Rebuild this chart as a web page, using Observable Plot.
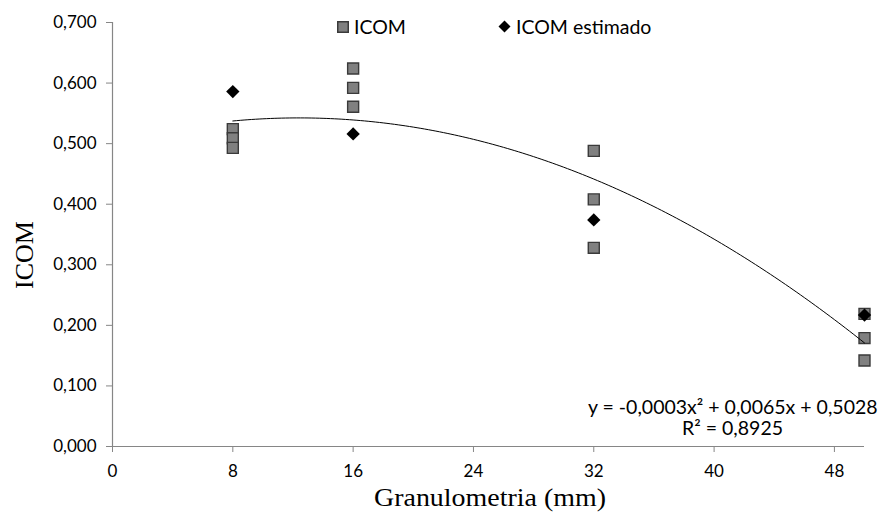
<!DOCTYPE html>
<html>
<head>
<meta charset="utf-8">
<script src="https://cdn.jsdelivr.net/npm/d3@7"></script>
<script src="https://cdn.jsdelivr.net/npm/@observablehq/plot@0.6"></script>
<style>
  body { margin: 0; background: #fff; }
  #wrap { position: relative; width: 886px; height: 512px; overflow: hidden; }
  .legend { position: absolute; top: 15px; font-family: Lato, sans-serif; font-size: 19.5px; color: #000; display: flex; align-items: center; gap: 5px; white-space: nowrap; }
  .eq { position: absolute; font-family: Lato, sans-serif; font-size: 19.5px; color: #000; white-space: nowrap; line-height: 21px; }
</style>
</head>
<body>
<div id="wrap"></div>
<script>
// ---- data ----
const granulometria = [8, 8, 8, 16, 16, 16, 32, 32, 32, 50, 50, 50];
const icom = [0.524, 0.509, 0.493, 0.624, 0.592, 0.561, 0.488, 0.408, 0.328, 0.219, 0.179, 0.142];
const granulometriaEstimado = [8, 16, 32, 50];
const icomEstimado = [0.586, 0.516, 0.374, 0.217];
const xTicks = [0, 8, 16, 24, 32, 40, 48];
const yTicks = [0, 0.1, 0.2, 0.3, 0.4, 0.5, 0.6, 0.7];
const equationText = "y = -0,0003x² + 0,0065x + 0,5028";
const r2Text = "R² = 0,8925";

// ---- build tables ----
const obs = granulometria.map((g, i) => ({x: g, y: icom[i]}));
const est = granulometriaEstimado.map((g, i) => ({x: g, y: icomEstimado[i]}));

// least-squares quadratic trendline fitted to the ICOM points (as the spreadsheet does)
function quadFit(xs, ys) {
  const S = k => d3.sum(xs, x => x ** k);
  const T = k => d3.sum(xs, (x, i) => x ** k * ys[i]);
  const A = [[S(0), S(1), S(2), T(0)], [S(1), S(2), S(3), T(1)], [S(2), S(3), S(4), T(2)]];
  for (let c = 0; c < 3; c++) {
    for (let r = c + 1; r < 3; r++) {
      const f = A[r][c] / A[c][c];
      for (let k = c; k < 4; k++) A[r][k] -= f * A[c][k];
    }
  }
  const b = [0, 0, 0];
  for (let r = 2; r >= 0; r--) {
    let s = A[r][3];
    for (let k = r + 1; k < 3; k++) s -= A[r][k] * b[k];
    b[r] = s / A[r][r];
  }
  return b;
}
const [c0, c1, c2] = quadFit(granulometria, icom);
const xMin = d3.min(granulometria), xMax = d3.max(granulometria);
const trend = d3.range(xMin, xMax + 0.001, 0.25).map(x => ({x, y: c0 + c1 * x + c2 * x * x}));

const fmtY = d => d.toFixed(3).replace(".", ",");
const gray = "#868686";

const chart = Plot.plot({
  width: 886,
  height: 512,
  marginLeft: 112,
  marginRight: 22,
  marginTop: 22,
  marginBottom: 66,
  style: {fontFamily: "Lato, sans-serif", fontSize: "17px", color: "#000", background: "#fff"},
  x: {domain: [0, 50], ticks: xTicks},
  y: {domain: [0, 0.7], ticks: yTicks},
  marks: [
    Plot.ruleY([0], {stroke: gray, strokeWidth: 1.2}),
    Plot.ruleX([0], {stroke: gray, strokeWidth: 1.2}),
    Plot.axisX({ticks: xTicks, tickSize: 6, tickPadding: 12, stroke: gray, fill: "#000", label: null, tickFormat: d => String(d)}),
    Plot.axisY({ticks: yTicks, tickSize: 6, tickPadding: 10, stroke: gray, fill: "#000", label: null, tickFormat: fmtY}),
    Plot.dot(obs, {x: "x", y: "y", symbol: "square", r: 6.2, fill: "#808080", stroke: "#3a3a3a", strokeWidth: 1.4}),
    Plot.dot(est, {x: "x", y: "y", symbol: "diamond2", r: 6, fill: "#000", stroke: "none"}),
    Plot.line(trend, {x: "x", y: "y", stroke: "#000", strokeWidth: 1, curve: "linear"})
  ]
});

const wrap = document.getElementById("wrap");
wrap.appendChild(chart);

// axis titles (serif, as in the reference)
const svg = d3.select(chart);
svg.append("text")
  .attr("x", 490).attr("y", 506)
  .attr("text-anchor", "middle")
  .attr("font-family", "'Liberation Serif', serif").attr("font-size", 25)
  .attr("textLength", 232).attr("lengthAdjust", "spacingAndGlyphs")
  .text("Granulometria (mm)");
svg.append("text")
  .attr("transform", "translate(33,255) rotate(-90)")
  .attr("text-anchor", "middle")
  .attr("font-family", "'Liberation Serif', serif").attr("font-size", 26)
  .text("ICOM");

// legend
const leg1 = document.createElement("div");
leg1.className = "legend";
leg1.style.left = "337px";
leg1.innerHTML = '<svg width="12" height="12"><rect x="0.75" y="0.75" width="10.5" height="10.5" fill="#808080" stroke="#3a3a3a" stroke-width="1.5"/></svg><span>ICOM</span>';
wrap.appendChild(leg1);
const leg2 = document.createElement("div");
leg2.className = "legend";
leg2.style.left = "498px";
leg2.innerHTML = '<svg width="13" height="13"><path d="M6.5 0.5 L12.5 6.5 L6.5 12.5 L0.5 6.5 Z" fill="#000"/></svg><span>ICOM estimado</span>';
wrap.appendChild(leg2);

// trendline equation label
const eq1 = document.createElement("div");
eq1.className = "eq";
eq1.style.left = "588px";
eq1.style.top = "396px";
eq1.textContent = equationText;
wrap.appendChild(eq1);
const eq2 = document.createElement("div");
eq2.className = "eq";
eq2.style.left = "682px";
eq2.style.top = "417px";
eq2.textContent = r2Text;
wrap.appendChild(eq2);
</script>
</body>
</html>
